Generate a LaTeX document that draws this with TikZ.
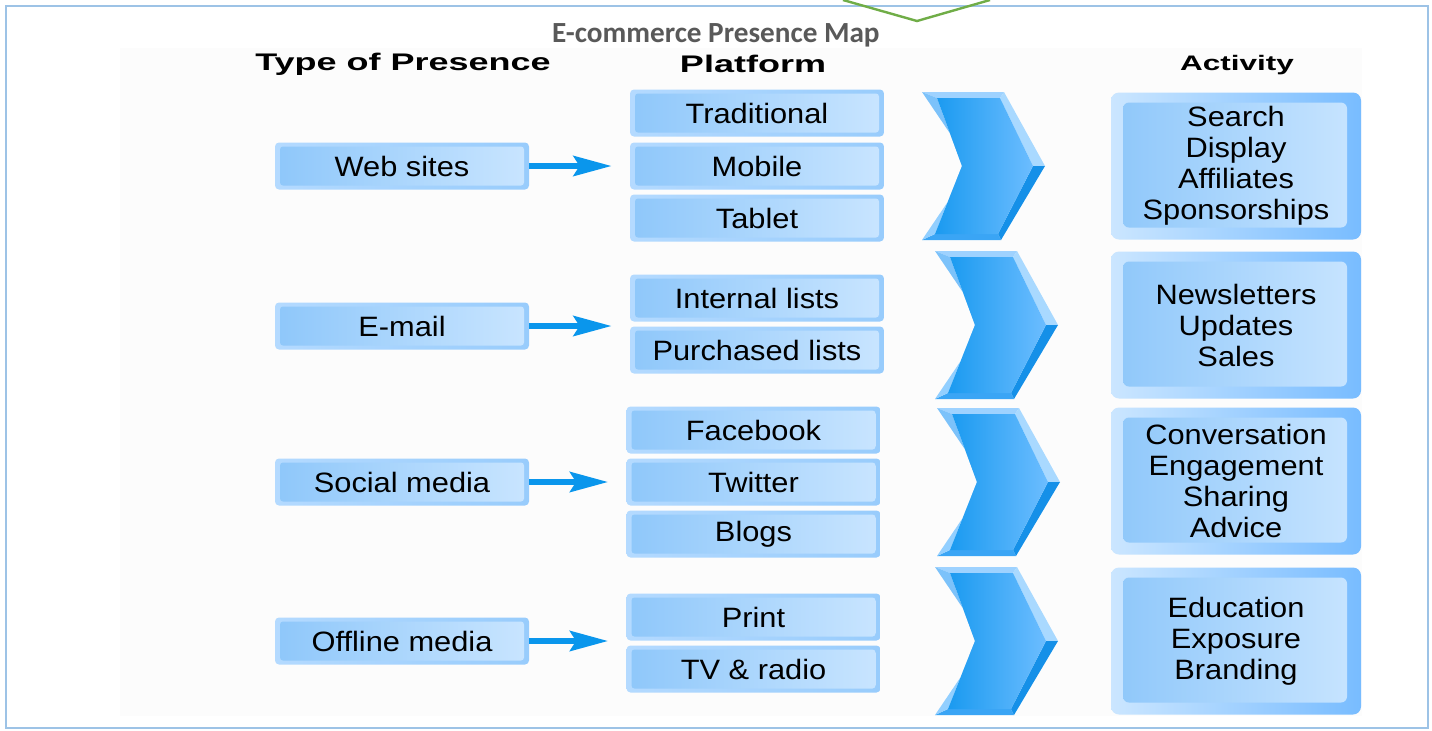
\documentclass[tikz,border=0pt]{standalone}
\usepackage{fontspec}
\usetikzlibrary{arrows.meta}
\setmainfont{Liberation Sans}
\newfontfamily\bodyf{Liberation Sans}[FakeStretch=1.1]
\newfontfamily\hdrf{Liberation Sans}[FakeStretch=1.5]
\newfontfamily\titlef{Carlito}
\definecolor{framec}{HTML}{9DC3E6}
\definecolor{greenc}{HTML}{70AD47}
\definecolor{titlec}{HTML}{595959}
\definecolor{arrc}{HTML}{0A96EC}
\definecolor{outL}{HTML}{B4DAFF}
\definecolor{outR}{HTML}{98CCFC}
\definecolor{innL}{HTML}{8EC7FA}
\definecolor{innR}{HTML}{C9E5FF}
\definecolor{aoutL}{HTML}{CBE6FF}
\definecolor{aoutR}{HTML}{78BCFF}
\definecolor{bgc}{HTML}{FCFCFC}
\definecolor{cvUL}{HTML}{7CC2FA}
\definecolor{cvUR}{HTML}{A9D9FF}
\definecolor{cvLR}{HTML}{1590E8}
\definecolor{cvLL}{HTML}{92CFFF}
\definecolor{cvT}{HTML}{9ED2FF}
\definecolor{cvB}{HTML}{3AA5F5}
\definecolor{cvFL}{HTML}{1A9AF0}
\definecolor{cvFR}{HTML}{6CBDFF}
\tikzset{
  pbox/.style={rounded corners=2pt, minimum width=127pt, minimum height=23.5pt,
    inner sep=0pt, left color=outL, right color=outR, font=\bodyf\fontsize{14}{16}\selectfont,
    path picture={\shade[left color=innL, right color=innR, rounded corners=1.5pt]
      ([shift={(2.5pt,-2pt)}]path picture bounding box.north west) rectangle
      ([shift={(-2.5pt,2pt)}]path picture bounding box.south east);}},
  abox/.style={rounded corners=4pt, minimum width=125pt, minimum height=73.5pt,
    inner sep=0pt, align=center, left color=aoutL, right color=aoutR,
    font=\bodyf\fontsize{14}{15.5}\selectfont,
    path picture={\shade[left color=innL, right color=innR, rounded corners=3pt]
      ([shift={(6pt,-5pt)}]path picture bounding box.north west) rectangle
      ([shift={(-7pt,6pt)}]path picture bounding box.south east);}},
  hdr/.style={font=\hdrf\bfseries\fontsize{12}{14}\selectfont, inner sep=0pt},
  arr/.style={draw=arrc, line width=3pt, -{Stealth[length=19pt,width=10pt,inset=3pt]}, shorten >=9pt},
}
\newcommand{\chevshape}[2]{%
  \begin{scope}[shift={(#1,#2)}]
    \fill[cvT]  (0,0) -- (82,0) -- (78,6) -- (15,6) -- cycle;
    \fill[cvUR] (82,0) -- (123,74) -- (111,74) -- (78,6) -- cycle;
    \fill[cvLR] (123,74) -- (79,148) -- (76,142) -- (111,74) -- cycle;
    \fill[cvB]  (79,148) -- (0,148) -- (13,142) -- (76,142) -- cycle;
    \fill[cvLL] (0,148) -- (50,74) -- (40,74) -- (13,142) -- cycle;
    \fill[cvUL] (50,74) -- (0,0) -- (15,6) -- (40,74) -- cycle;
    \shade[left color=cvFL, right color=cvFR] (15,6) -- (78,6) -- (111,74) -- (76,142) -- (13,142) -- (40,74) -- cycle;
  \end{scope}}
\begin{document}
\begin{tikzpicture}[x=0.5pt,y=-0.5pt]
\useasboundingbox (0,0) rectangle (1432,730);
\fill[white] (0,0) rectangle (1432,730);
\fill[bgc] (120,48) rectangle (1362,716);
\draw[framec, line width=1pt] (6,6) rectangle (1428,728);
\draw[greenc, line width=1.2pt] (843,0) -- (917,21) -- (990,0);
\node[font=\titlef\bfseries\fontsize{14.6}{16}\selectfont, text=titlec] (title) at (716,35) {E-commerce Presence Map};
\node[hdr] (h1) at (403,64) {Type of Presence};
\node[hdr] (h2) at (753,64) {Platform};
\node[hdr, font=\hdrf\bfseries\fontsize{10.5}{12}\selectfont] (h3) at (1237,65) {Activity};
% type boxes
\node[pbox] (web) at (402,166) {Web sites};
\node[pbox] (mail) at (402,326) {E-mail};
\node[pbox] (soc) at (402,482) {Social media};
\node[pbox] (off) at (402,641) {Offline media};
% platform boxes
\node[pbox] (trad) at (757,113) {Traditional};
\node[pbox] (mob) at (757,166) {Mobile};
\node[pbox] (tab) at (757,218) {Tablet};
\node[pbox] (int) at (757,298) {Internal lists};
\node[pbox] (pur) at (757,350) {Purchased lists};
\node[pbox] (fb) at (753.5,430) {Facebook};
\node[pbox] (tw) at (753.5,482) {Twitter};
\node[pbox] (bl) at (753.5,534) {Blogs};
\node[pbox] (pr) at (753.5,617) {Print};
\node[pbox] (tv) at (753.5,669) {TV \& radio};
% arrows
\draw[arr] (web) -- (web -| mob.west);
\draw[arr] (mail) -- (mail -| int.west);
\draw[arr] (soc) -- (soc -| tw.west);
\draw[arr] (off) -- (off -| pr.west);
% chevrons
\chevshape{922}{92}
\chevshape{935}{251}
\chevshape{937}{408}
\chevshape{935}{567}
% activity boxes
\node[abox] (a1) at (1236,166) {Search\\Display\\Affiliates\\Sponsorships};
\node[abox] (a2) at (1236,325) {Newsletters\\Updates\\Sales};
\node[abox] (a3) at (1236,481) {Conversation\\Engagement\\Sharing\\Advice};
\node[abox] (a4) at (1236,641) {Education\\Exposure\\Branding};
\end{tikzpicture}
\end{document}
